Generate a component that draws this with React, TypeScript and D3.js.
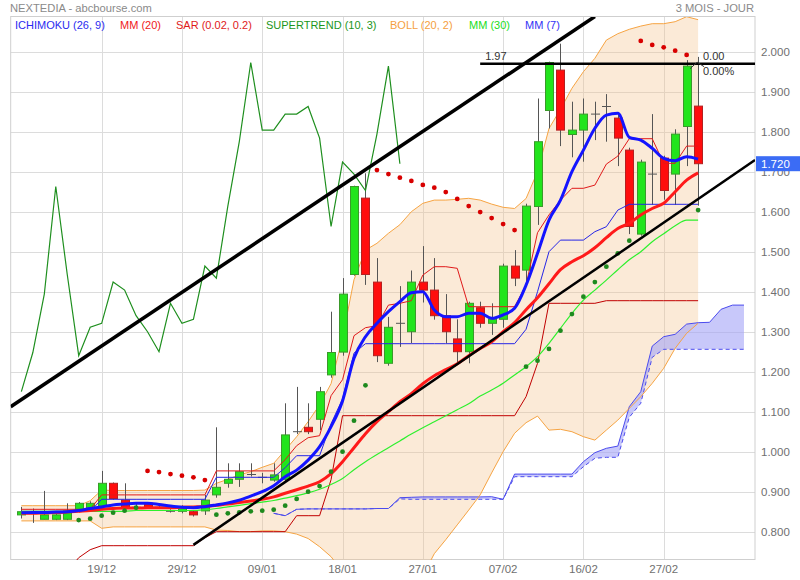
import * as d3 from "d3";

// NEXTEDIA daily, 08/12/2016 -> 02/03/2017 (60 sessions)
const tickLabels = ["19/12", "29/12", "09/01", "18/01", "27/01", "07/02", "16/02", "27/02"];
const tickIdx = [7, 14, 21, 28, 35, 42, 49, 56];
const priceTicks = [0.8, 0.9, 1.0, 1.1, 1.2, 1.3, 1.4, 1.5, 1.6, 1.7, 1.8, 1.9, 2.0];

const open = [
  0.842, 0.846, 0.831, 0.831, 0.831, 0.852, 0.858, 0.864, 0.921, 0.879,
  0.862, 0.871, 0.861, 0.852, 0.851, 0.85, 0.852, 0.892, 0.921, 0.931,
  0.942, 0.935, 0.929, 0.931, 1.048, 1.061, 1.081, 1.192, 1.249, 1.443,
  1.634, 1.424, 1.221, 1.318, 1.3, 1.424, 1.404, 1.34, 1.282, 1.25,
  1.36, 1.321, 1.331, 1.464, 1.454, 1.613, 1.853, 1.954, 1.793, 1.804,
  1.843, 1.861, 1.834, 1.754, 1.544, 1.692, 1.734, 1.694, 1.813, 1.864,
];
const high = [
  0.862, 0.858, 0.902, 0.846, 0.871, 0.874, 0.876, 0.952, 0.923, 0.921,
  0.87, 0.874, 0.866, 0.856, 0.866, 0.852, 0.892, 1.061, 0.971, 0.971,
  0.971, 0.947, 0.971, 1.121, 1.162, 1.121, 1.162, 1.35, 1.434, 1.665,
  1.696, 1.484, 1.337, 1.414, 1.453, 1.514, 1.484, 1.394, 1.331, 1.375,
  1.375, 1.371, 1.47, 1.504, 1.62, 1.883, 1.975, 2.02, 1.875, 1.883,
  1.875, 1.894, 1.846, 1.76, 1.73, 1.844, 1.74, 1.806, 1.979, 1.987,
];
const low = [
  0.833, 0.822, 0.831, 0.829, 0.829, 0.848, 0.855, 0.86, 0.88, 0.856,
  0.855, 0.858, 0.857, 0.848, 0.846, 0.838, 0.842, 0.885, 0.91, 0.912,
  0.938, 0.921, 0.925, 0.925, 1.044, 1.044, 1.054, 1.185, 1.24, 1.44,
  1.417, 1.224, 1.215, 1.262, 1.271, 1.373, 1.33, 1.271, 1.221, 1.221,
  1.31, 1.292, 1.31, 1.414, 1.414, 1.567, 1.808, 1.764, 1.736, 1.725,
  1.779, 1.775, 1.714, 1.544, 1.54, 1.617, 1.63, 1.617, 1.714, 1.615,
];
const close = [
  0.85, 0.846, 0.842, 0.842, 0.852, 0.871, 0.871, 0.921, 0.883, 0.86,
  0.861, 0.861, 0.861, 0.851, 0.861, 0.842, 0.879, 0.911, 0.931, 0.95,
  0.943, 0.936, 0.942, 1.042, 1.05, 1.05, 1.15, 1.248, 1.394, 1.663,
  1.443, 1.24, 1.311, 1.321, 1.424, 1.404, 1.34, 1.3, 1.25, 1.371,
  1.321, 1.331, 1.464, 1.434, 1.614, 1.775, 1.973, 1.804, 1.804, 1.844,
  1.844, 1.863, 1.784, 1.563, 1.724, 1.694, 1.653, 1.794, 1.964, 1.72,
];

const sar = [
  null, null, null, null, null, 0.829, 0.8325, 0.84, 0.8475, 0.8525,
  0.86, 0.952, 0.949, 0.944, 0.94, 0.936, 0.929, 0.8425, 0.846, 0.8485,
  0.851, 0.8525, 0.855, 0.865, 0.882, 0.9, 0.914, 0.95, 1.0, 1.0775,
  1.166, 1.704, 1.694, 1.685, 1.677, 1.667, 1.66, 1.649, 1.632, 1.614,
  1.599, 1.584, 1.569, 1.554, 1.2125, 1.2275, 1.257, 1.3025, 1.344, 1.3875,
  1.424, 1.4625, 1.496, 1.5275, 2.027, 2.017, 2.011, 2.0025, 1.992, 1.604,
];

const bollUp = [
  0.865, 0.865, 0.865, 0.865, 0.865, 0.865, 0.8775, 0.904, 0.903, 0.903,
  0.903, 0.903, 0.903, 0.903, 0.903, 0.903, 0.904, 0.921, 0.931, 0.942,
  0.95, 0.961, 0.971, 1.004, 1.0375, 1.075, 1.117, 1.17, 1.285, 1.43,
  1.504, 1.521, 1.546, 1.5675, 1.6, 1.621, 1.629, 1.629, 1.631, 1.6335,
  1.629, 1.619, 1.611, 1.608, 1.633, 1.7, 1.808, 1.856, 1.9085, 1.95,
  1.9835, 2.029, 2.045, 2.056, 2.064, 2.07, 2.07, 2.075, 2.0875, 2.08,
];
const bollLow = [
  0.827, 0.827, 0.827, 0.827, 0.827, 0.827, 0.827, 0.8085, 0.812, 0.812,
  0.812, 0.812, 0.812, 0.812, 0.812, 0.812, 0.812, 0.804, 0.803, 0.8,
  0.8, 0.802, 0.802, 0.8, 0.794, 0.783, 0.7625, 0.7375, 0.7, 0.66,
  0.62, 0.6, 0.59, 0.6, 0.62, 0.69, 0.745, 0.78, 0.817, 0.854,
  0.892, 0.947, 1.0, 1.046, 1.0725, 1.089, 1.054, 1.056, 1.05, 1.0375,
  1.029, 1.054, 1.079, 1.1085, 1.1375, 1.171, 1.2085, 1.2585, 1.296, 1.321,
];

const mm20 = [
  0.846, 0.846, 0.847, 0.848, 0.849, 0.851, 0.853, 0.856, 0.858, 0.859,
  0.859, 0.86, 0.86, 0.86, 0.861, 0.862, 0.863, 0.866, 0.869, 0.873,
  0.877, 0.881, 0.887, 0.896, 0.905, 0.914, 0.925, 0.945, 0.975, 1.01,
  1.045, 1.075, 1.1, 1.125, 1.145, 1.17, 1.19, 1.205, 1.22, 1.24,
  1.258, 1.275, 1.3, 1.323, 1.355, 1.385, 1.42, 1.455, 1.475, 1.49,
  1.51, 1.535, 1.558, 1.571, 1.592, 1.608, 1.621, 1.65, 1.679, 1.697,
];
const mm30 = [
  0.851, 0.851, 0.851, 0.851, 0.851, 0.851, 0.851, 0.851, 0.851, 0.851,
  0.853, 0.853, 0.853, 0.853, 0.853, 0.853, 0.855, 0.858, 0.862, 0.866,
  0.87, 0.874, 0.878, 0.884, 0.89, 0.897, 0.906, 0.918, 0.933, 0.955,
  0.975, 0.993, 1.01, 1.027, 1.044, 1.06, 1.075, 1.09, 1.105, 1.12,
  1.139, 1.154, 1.171, 1.192, 1.2125, 1.2375, 1.271, 1.3085, 1.346, 1.379,
  1.404, 1.429, 1.455, 1.48, 1.5, 1.525, 1.545, 1.565, 1.579, 1.579,
];
const mm7 = [
  0.8475, 0.848, 0.848, 0.849, 0.85, 0.853, 0.858, 0.862, 0.867, 0.869,
  0.871, 0.871, 0.868, 0.864, 0.861, 0.86, 0.8625, 0.867, 0.872, 0.879,
  0.889, 0.9, 0.915, 0.9375, 0.954, 0.979, 1.0125, 1.0625, 1.127, 1.2335,
  1.2875, 1.321, 1.35, 1.375, 1.3975, 1.4, 1.354, 1.3375, 1.3375, 1.346,
  1.346, 1.3335, 1.342, 1.3585, 1.4165, 1.496, 1.579, 1.629, 1.7, 1.754,
  1.8085, 1.8415, 1.846, 1.786, 1.779, 1.7585, 1.7335, 1.7275, 1.7375, 1.7315,
];

// ichimoku
const tenkan = [
  0.856, 0.856, 0.856, 0.856, 0.856, 0.856, 0.856, 0.892, 0.892, 0.892,
  0.892, 0.892, 0.892, 0.892, 0.892, 0.892, 0.892, 0.952, 0.952, 0.952,
  0.952, 0.952, 0.952, 0.98, 1.015, 1.035, 1.04, 1.14, 1.18, 1.29,
  1.31, 1.315, 1.3665, 1.371, 1.3775, 1.4415, 1.4625, 1.4625, 1.4585, 1.3625,
  1.3625, 1.3625, 1.3625, 1.3625, 1.4165, 1.5475, 1.592, 1.629, 1.6585, 1.6585,
  1.6665, 1.719, 1.739, 1.7825, 1.7825, 1.7825, 1.721, 1.721, 1.764, 1.764,
];
const kijun = [
  0.851, 0.851, 0.851, 0.851, 0.851, 0.851, 0.851, 0.881, 0.881, 0.881,
  0.881, 0.881, 0.881, 0.881, 0.881, 0.881, 0.881, 0.936, 0.936, 0.936,
  0.936, 0.936, 0.936, 0.96, 0.99, 0.99, 0.99, 1.07, 1.132, 1.2465,
  1.27, 1.27, 1.27, 1.27, 1.27, 1.27, 1.27, 1.27, 1.27, 1.27,
  1.27, 1.27, 1.27, 1.27, 1.306, 1.4, 1.5, 1.529, 1.529, 1.529,
  1.55, 1.5625, 1.604, 1.6185, 1.6185, 1.6185, 1.6185, 1.6185, 1.6185, 1.6185,
];
const mid52 = [
  0.7, 0.7, 0.7, 0.7, 0.7, 0.735, 0.755, 0.765, 0.765, 0.765,
  0.765, 0.765, 0.765, 0.765, 0.765, 0.765, 0.785, 0.8, 0.8, 0.8,
  0.8, 0.8, 0.8, 0.8, 0.84, 0.84, 0.84, 0.93, 1.09, 1.09,
  1.09, 1.09, 1.09, 1.09, 1.09, 1.09, 1.09, 1.09, 1.09, 1.09,
  1.09, 1.09, 1.09, 1.09, 1.1375, 1.221, 1.371, 1.371, 1.371, 1.371,
  1.371, 1.3775, 1.3775, 1.3775, 1.3775, 1.3775, 1.3775, 1.3775, 1.3775, 1.3775,
];
const kumoStart = 22;
const kumoA = [
  0.846, 0.84, 0.856, 0.857, 0.857, 0.857, 0.857, 0.857, 0.857, 0.858, 0.858,
  0.885, 0.886, 0.887, 0.887, 0.887, 0.887, 0.887, 0.887, 0.8875, 0.881,
  0.944, 0.944, 0.944, 0.944, 0.944, 0.944,
  0.975, 0.9975, 1.0085, 1.014, 1.1125, 1.15, 1.264, 1.2875, 1.2935, 1.319, 1.3225, 1.3235, 1.356, 1.3665, 1.3665,
];
const kumoB = [
  0.846, 0.84, 0.856, 0.857, 0.857, 0.857, 0.857, 0.857, 0.857, 0.858, 0.858,
  0.882, 0.881, 0.881, 0.881, 0.881, 0.881, 0.881, 0.881, 0.881, 0.881,
  0.9375, 0.9375, 0.9375, 0.9375, 0.9375, 0.9375,
  0.9625, 0.9835, 0.986, 0.986, 1.086, 1.121, 1.236, 1.256, 1.256, 1.256, 1.256, 1.256, 1.256, 1.256, 1.256,
];
const chikouShift = 26;

// drawn lines: [index, price] pairs
const trendUp = [[-0.93, 1.1125], [50, 2.088]];
const trendLow = [[15, 0.767], [63.96, 1.729]];
const resistance = [[40, 1.97], [63.96, 1.97]];

const FONT = "'Liberation Sans', Arial, sans-serif";

export default function App() {
  const L = 10.7, R = 755, T = 17, B = 560;
  const x = d3.scaleLinear([-0.93, 63.96], [L, R]);
  const y = d3.scaleLinear([0.8, 2.0], [531.7, 51.7]);
  const fmt = d3.format(".3f");

  const series = d3.line<number>().x((_, i) => x(i)).y((d) => y(d));
  const smooth = d3.line<number>().x((_, i) => x(i)).y((d) => y(d)).curve(d3.curveMonotoneX);
  const kumoLine = d3.line<number>().x((_, i) => x(i + kumoStart)).y((d) => y(d));
  const boll = d3.area<number>().x((_, i) => x(i)).y0((_, i) => y(bollLow[i])).y1((d) => y(d));
  const kumo = d3.area<number>().x((_, i) => x(i + kumoStart)).y0((_, i) => y(kumoB[i])).y1((d) => y(d));
  const chikou = close.slice(chikouShift);
  const seg = d3.line<number[]>().x((d) => x(d[0])).y((d) => y(d[1]));
  const last = close[close.length - 1];

  const legend = [
    { t: "ICHIMOKU (26, 9)", c: "#2b2bf0", x: 15 },
    { t: "MM (20)", c: "#f02020", x: 120 },
    { t: "SAR (0.02, 0.2)", c: "#e01a1a", x: 176 },
    { t: "SUPERTREND (10, 3)", c: "#1c961c", x: 266 },
    { t: "BOLL (20, 2)", c: "#f5a040", x: 390 },
    { t: "MM (30)", c: "#22dd22", x: 469 },
    { t: "MM (7)", c: "#3333f5", x: 525 },
  ];

  return (
    <svg width={800} height={580} style={{ position: "absolute", left: 0, top: 0, background: "#fff" }} fontFamily={FONT}>
      <defs>
        <clipPath id="plot">
          <rect x={L} y={T} width={R - L} height={B - T} />
        </clipPath>
      </defs>

      {/* grid */}
      <g stroke="#dcdcdc" strokeWidth={1}>
        {priceTicks.map((p) => (
          <line key={p} x1={L} x2={R} y1={Math.round(y(p)) + 0.5} y2={Math.round(y(p)) + 0.5} />
        ))}
        {tickIdx.map((t) => (
          <line key={t} x1={Math.round(x(t)) + 0.5} x2={Math.round(x(t)) + 0.5} y1={T} y2={B} />
        ))}
      </g>
      <rect x={L} y={T - 0.5} width={R - L} height={B - T} fill="none" stroke="#cfcfcf" />

      <g clipPath="url(#plot)">
        <path d={boll(bollUp) as string} fill="#f5c591" fillOpacity={0.36} stroke="none" />
        <path d={kumo(kumoA) as string} fill="#a4a4f6" fillOpacity={0.6} stroke="none" />
        <path d={kumoLine(kumoA) as string} fill="none" stroke="#4b4bee" strokeWidth={1} />
        <path d={kumoLine(kumoB) as string} fill="none" stroke="#4b4bee" strokeWidth={1} strokeDasharray="4,3" />
        <path d={series(bollUp) as string} fill="none" stroke="#f6a443" strokeWidth={1} />
        <path d={series(bollLow) as string} fill="none" stroke="#f6a443" strokeWidth={1} />

        {/* candles */}
        {close.map((c, i) => {
          const o = open[i];
          const cx = Math.round(x(i)) + 0.5;
          const up = c >= o;
          const top = y(Math.max(o, c));
          const bot = y(Math.min(o, c));
          return (
            <g key={i}>
              <line x1={cx} x2={cx} y1={y(high[i])} y2={y(low[i])} stroke="#555" strokeWidth={1} />
              {Math.abs(c - o) < 0.004 ? (
                <line x1={cx - 4.5} x2={cx + 4.5} y1={y(c)} y2={y(c)} stroke="#555" strokeWidth={1} />
              ) : (
                <rect x={cx - 4} y={top} width={8} height={Math.max(1, bot - top)}
                  fill={up ? "#22e41c" : "#ff0d0d"} stroke={up ? "#3a9a2a" : "#b52020"} strokeWidth={1} />
              )}
            </g>
          );
        })}

        <path d={series(mid52) as string} fill="none" stroke="#c00000" strokeWidth={1} />
        <path d={series(kijun) as string} fill="none" stroke="#2626e6" strokeWidth={1} />
        <path d={series(tenkan) as string} fill="none" stroke="#e01a1a" strokeWidth={1} />
        <path d={smooth(mm30) as string} fill="none" stroke="#2ef02e" strokeWidth={1.2} />
        <path d={smooth(mm20) as string} fill="none" stroke="#ff1a1a" strokeWidth={3} />
        <path d={smooth(mm7) as string} fill="none" stroke="#1414ff" strokeWidth={3} />
        <path d={series(chikou) as string} fill="none" stroke="#1f8f1f" strokeWidth={1.2} />

        {sar.map((s, i) =>
          s == null ? null : (
            <circle key={i} cx={x(i)} cy={y(s)} r={2.4} fill={s > high[i] ? "#d80000" : "#1e8a1e"} />
          )
        )}

        <path d={seg(trendUp) as string} stroke="#000" strokeWidth={3.5} fill="none" />
        <path d={seg(trendLow) as string} stroke="#000" strokeWidth={2.5} fill="none" />
        <path d={seg(resistance) as string} stroke="#000" strokeWidth={2.5} fill="none" />
      </g>

      {/* resistance labels */}
      <text x={x(40) + 5} y={y(1.97) - 4} fontSize={11} fill="#333">1.97</text>
      <path d={`M${x(59) - 8},${y(1.97) + 5} L${x(59) - 1},${y(1.97) - 1.5} L${x(59) + 6},${y(1.97) + 3}`} fill="none" stroke="#333" strokeWidth={1} />
      <text x={703} y={y(1.97) - 4} fontSize={11} fill="#333">0.00</text>
      <text x={703} y={y(1.97) + 11} fontSize={11} fill="#333">0.00%</text>

      {/* y axis (the 1.700 label sits under the last-price tag) */}
      {priceTicks.map((p) => (
        <text key={p} x={761} y={y(p) + 4} fontSize={11.5} fill="#707070">{fmt(p)}</text>
      ))}
      <rect x={756} y={y(last) - 7.5} width={44} height={15} fill="#3b6cf5" />
      <text x={761} y={y(last) + 4.5} fontSize={11.5} fill="#fff">{fmt(last)}</text>

      {/* x axis */}
      {tickIdx.map((t, k) => (
        <text key={t} x={x(t)} y={573} fontSize={11.5} fill="#707070" textAnchor="middle">{tickLabels[k]}</text>
      ))}

      {/* header */}
      <text x={10} y={12} fontSize={11.2} fill="#8a8a8a">NEXTEDIA - abcbourse.com</text>
      <text x={754} y={12} fontSize={11.2} fill="#8a8a8a" textAnchor="end">3 MOIS - JOUR</text>
      {legend.map((l) => (
        <text key={l.t} x={l.x} y={29} fontSize={11} fill={l.c}>{l.t}</text>
      ))}
    </svg>
  );
}
